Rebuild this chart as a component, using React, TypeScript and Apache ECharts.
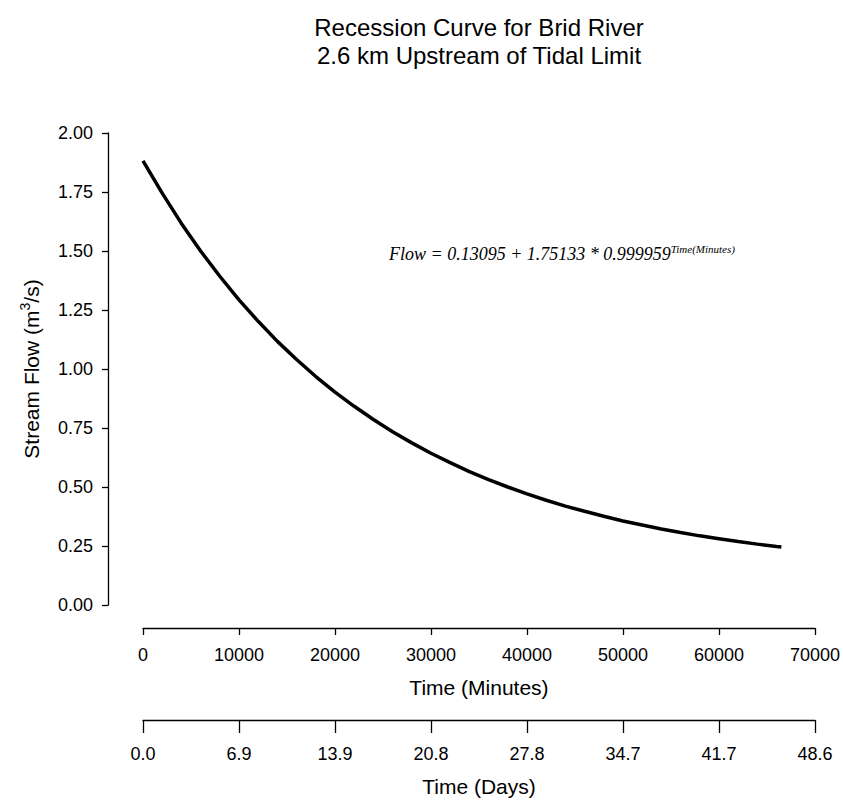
import React, { useEffect, useRef } from 'react';
import * as echarts from 'echarts';

// Time since start of recession (minutes)
const minutes = [
  0, 2000, 4000, 6000, 8000, 10000, 12000, 14000, 16000, 18000, 20000,
  22000, 24000, 26000, 28000, 30000, 32000, 34000, 36000, 38000, 40000,
  42000, 44000, 46000, 48000, 50000, 52000, 54000, 56000, 58000, 60000,
  62000, 64000, 66000, 66500,
];
// Stream flow (m3/s)
const flow = [
  1.882, 1.745, 1.617, 1.5, 1.393, 1.293, 1.202, 1.117, 1.04, 0.968, 0.902,
  0.842, 0.786, 0.734, 0.687, 0.643, 0.603, 0.565, 0.531, 0.5, 0.471,
  0.444, 0.419, 0.397, 0.376, 0.356, 0.339, 0.322, 0.307, 0.293, 0.281,
  0.269, 0.258, 0.248, 0.246,
];
const minuteTicks = [0, 10000, 20000, 30000, 40000, 50000, 60000, 70000];
const minuteTickLabels = ['0', '10000', '20000', '30000', '40000', '50000', '60000', '70000'];
const dayTickLabels = ['0.0', '6.9', '13.9', '20.8', '27.8', '34.7', '41.7', '48.6'];
const titleLines = ['Recession Curve for Brid River', '2.6 km Upstream of Tidal Limit'];
const equationMain = 'Flow = 0.13095 + 1.75133 * 0.999959';
const equationExp = 'Time(Minutes)';

const SANS = 'Liberation Sans, Arial, sans-serif';
const SERIF = 'Liberation Serif, Times New Roman, serif';

export default function App() {
  const ref = useRef<HTMLDivElement>(null);
  useEffect(() => {
    if (!ref.current) return;
    const chart = echarts.init(ref.current, null, { renderer: 'svg' });
    const axisLine = { show: true, onZero: false, lineStyle: { color: '#000', width: 1.3 } };
    const tickFont = { color: '#000', fontFamily: SANS, fontSize: 18, fontWeight: 'normal' };
    const pick = (labels: string[]) => (v: number) => {
      const i = minuteTicks.indexOf(v);
      return i >= 0 ? labels[i] : '';
    };
    chart.setOption({
      animation: false,
      backgroundColor: '#fff',
      grid: [
        { left: 143, top: 133, width: 672, height: 472 },
        { left: 143, top: 133, width: 672, height: 472 },
      ],
      xAxis: [
        {
          type: 'value',
          gridIndex: 0,
          min: minuteTicks[0],
          max: minuteTicks[minuteTicks.length - 1],
          interval: 10000,
          position: 'bottom',
          offset: 23,
          axisLine,
          axisTick: { show: true, length: 7, lineStyle: { color: '#000', width: 1.3 } },
          axisLabel: { ...tickFont, margin: 18, formatter: pick(minuteTickLabels) },
          splitLine: { show: false },
          name: 'Time (Minutes)',
          nameLocation: 'middle',
          nameGap: 49,
          nameTextStyle: { color: '#000', fontFamily: SANS, fontSize: 21 },
        },
        {
          type: 'value',
          gridIndex: 1,
          min: minuteTicks[0],
          max: minuteTicks[minuteTicks.length - 1],
          interval: 10000,
          position: 'bottom',
          offset: 117,
          axisLine,
          axisTick: { show: true, length: 13, lineStyle: { color: '#000', width: 1.3 } },
          axisLabel: { ...tickFont, margin: 25, formatter: pick(dayTickLabels) },
          splitLine: { show: false },
          name: 'Time (Days)',
          nameLocation: 'middle',
          nameGap: 56,
          nameTextStyle: { color: '#000', fontFamily: SANS, fontSize: 21 },
        },
      ],
      yAxis: [
        {
          type: 'value',
          gridIndex: 0,
          min: 0,
          max: 2,
          interval: 0.25,
          offset: 35,
          axisLine,
          axisTick: { show: true, length: 6, lineStyle: { color: '#000', width: 1.3 } },
          axisLabel: { ...tickFont, margin: 15, formatter: (v: number) => v.toFixed(2) },
          splitLine: { show: false },
          name: '{n|Stream Flow (m}{s|3}{n|/s)}',
          nameLocation: 'middle',
          nameGap: 64,
          nameTextStyle: {
            color: '#000',
            rich: {
              n: { fontFamily: SANS, fontSize: 21, lineHeight: 26, color: '#000' },
              s: { fontFamily: SANS, fontSize: 14, lineHeight: 26, verticalAlign: 'top', color: '#000' },
            },
          },
        },
        { type: 'value', gridIndex: 1, min: 0, max: 2, show: false },
      ],
      series: [
        {
          type: 'line',
          xAxisIndex: 0,
          yAxisIndex: 0,
          data: minutes.map((m, i) => [m, flow[i]]),
          showSymbol: false,
          lineStyle: { color: '#000', width: 3.5 },
          itemStyle: { color: '#000' },
        },
      ],
      graphic: [
        {
          type: 'text',
          x: 479,
          y: 27,
          style: { text: titleLines[0], fill: '#000', font: `24px ${SANS}`, align: 'center', verticalAlign: 'middle' },
        },
        {
          type: 'text',
          x: 479,
          y: 55,
          style: { text: titleLines[1], fill: '#000', font: `24px ${SANS}`, align: 'center', verticalAlign: 'middle' },
        },
        {
          type: 'text',
          x: 389,
          y: 254,
          style: {
            text: `{m|${equationMain}}{s|${equationExp}}`,
            align: 'left',
            verticalAlign: 'middle',
            rich: {
              m: { fontFamily: SERIF, fontStyle: 'italic', fontSize: 18, lineHeight: 22, fill: '#000' },
              s: { fontFamily: SERIF, fontStyle: 'italic', fontSize: 11, lineHeight: 22, verticalAlign: 'top', fill: '#000' },
            },
          },
        },
      ],
    });
    return () => chart.dispose();
  }, []);
  return <div ref={ref} style={{ position: 'absolute', left: 0, top: 0, width: 843, height: 802 }} />;
}
